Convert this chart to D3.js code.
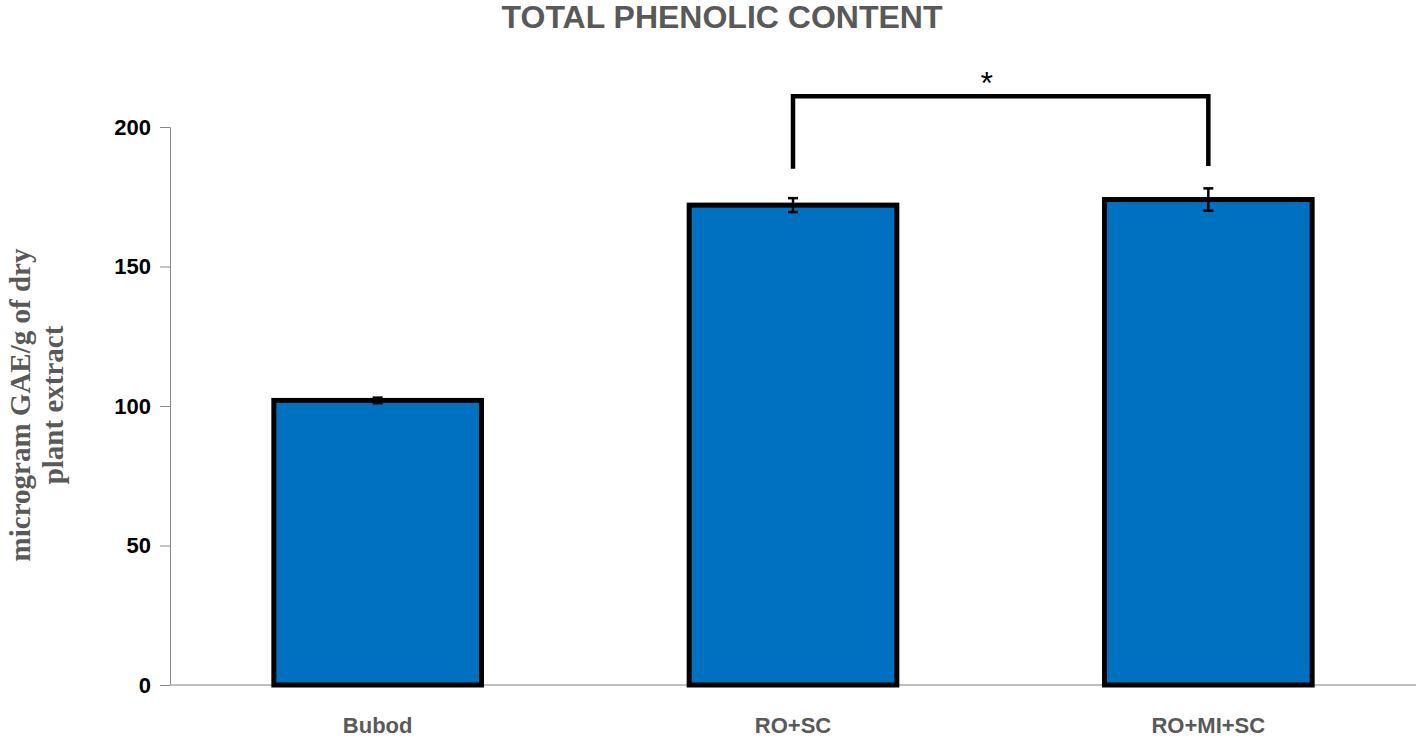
<!DOCTYPE html>
<html><head><meta charset="utf-8">
<script src="https://cdn.jsdelivr.net/npm/d3@7"></script>
<style>body{margin:0;background:#fff}</style>
</head><body>
<svg id="chart" width="1416" height="738"></svg>
<script>
var categories = ["Bubod", "RO+SC", "RO+MI+SC"];
var values = [102, 172, 174];
var errors = [1, 2.5, 4];
var yTicks = [0, 50, 100, 150, 200];

var svg = d3.select("#chart");
var x = d3.scaleBand().domain(categories).range([170, 1416]).paddingInner(0.5).paddingOuter(0.25);
var y = d3.scaleLinear().domain([0, 200]).range([685, 127]);

// axes
var yAxis = svg.append("g").attr("transform", "translate(170,0)")
  .call(d3.axisLeft(y).tickValues(yTicks).tickSize(10).tickSizeOuter(0));
yAxis.select(".domain").attr("stroke", "#888");
yAxis.selectAll(".tick line").attr("stroke", "#888");
yAxis.selectAll("text").attr("font-family", "Liberation Sans, Arial").attr("font-weight", "bold")
  .attr("font-size", 22).attr("fill", "#000").attr("dx", -6);

svg.append("line").attr("x1", 170).attr("x2", 1416).attr("y1", y(0)).attr("y2", y(0))
  .attr("stroke", "#aaa").attr("stroke-width", 1.5);

// bars
svg.selectAll("rect.bar").data(values).enter().append("rect")
  .attr("x", function(d, i) { return x(categories[i]); })
  .attr("width", x.bandwidth())
  .attr("y", function(d) { return y(d); })
  .attr("height", function(d) { return y(0) - y(d); })
  .attr("fill", "#0070C0").attr("stroke", "#000").attr("stroke-width", 5);

// error bars
var eb = svg.selectAll("g.err").data(values).enter().append("g")
  .attr("stroke", "#000").attr("stroke-width", 2.5);
eb.append("line")
  .attr("x1", function(d, i) { return x(categories[i]) + x.bandwidth() / 2; })
  .attr("x2", function(d, i) { return x(categories[i]) + x.bandwidth() / 2; })
  .attr("y1", function(d, i) { return y(d + errors[i]); })
  .attr("y2", function(d, i) { return y(d - errors[i]); });
[1, -1].forEach(function(s) {
  eb.append("line")
    .attr("x1", function(d, i) { return x(categories[i]) + x.bandwidth() / 2 - 5; })
    .attr("x2", function(d, i) { return x(categories[i]) + x.bandwidth() / 2 + 5; })
    .attr("y1", function(d, i) { return y(d + s * errors[i]); })
    .attr("y2", function(d, i) { return y(d + s * errors[i]); });
});

// significance bracket
var bx1 = x("RO+SC") + x.bandwidth() / 2, bx2 = x("RO+MI+SC") + x.bandwidth() / 2;
svg.append("path")
  .attr("d", "M" + bx1 + "," + y(185) + "V" + y(211) + "H" + bx2 + "V" + y(186))
  .attr("fill", "none").attr("stroke", "#000").attr("stroke-width", 4.5);
svg.append("text").attr("x", (bx1 + bx2) / 2 - 14).attr("y", 94).attr("text-anchor", "middle")
  .attr("font-family", "Liberation Sans, Arial").attr("font-size", 32).text("*");

// x labels
svg.selectAll("text.xl").data(categories).enter().append("text")
  .attr("x", function(d) { return x(d) + x.bandwidth() / 2; })
  .attr("y", 727).attr("dominant-baseline", "middle").attr("text-anchor", "middle")
  .attr("font-family", "Liberation Sans, Arial").attr("font-weight", "bold")
  .attr("font-size", 22).attr("fill", "#595959").text(function(d) { return d; });

// title
svg.append("text").attr("x", 722).attr("y", 28).attr("text-anchor", "middle")
  .attr("font-family", "Liberation Sans, Arial").attr("font-weight", "bold")
  .attr("font-size", 32).attr("fill", "#595959").text("TOTAL PHENOLIC CONTENT");

// y label
var yl = svg.append("text").attr("transform", "translate(30,405) rotate(-90)")
  .attr("text-anchor", "middle").attr("font-family", "Liberation Serif, Times New Roman")
  .attr("font-weight", "bold").attr("font-size", 29).attr("fill", "#595959");
yl.append("tspan").attr("x", 0).attr("dy", 0).text("microgram GAE/g of dry");
yl.append("tspan").attr("x", 0).attr("dy", 33).text("plant extract");
</script>
</body></html>
